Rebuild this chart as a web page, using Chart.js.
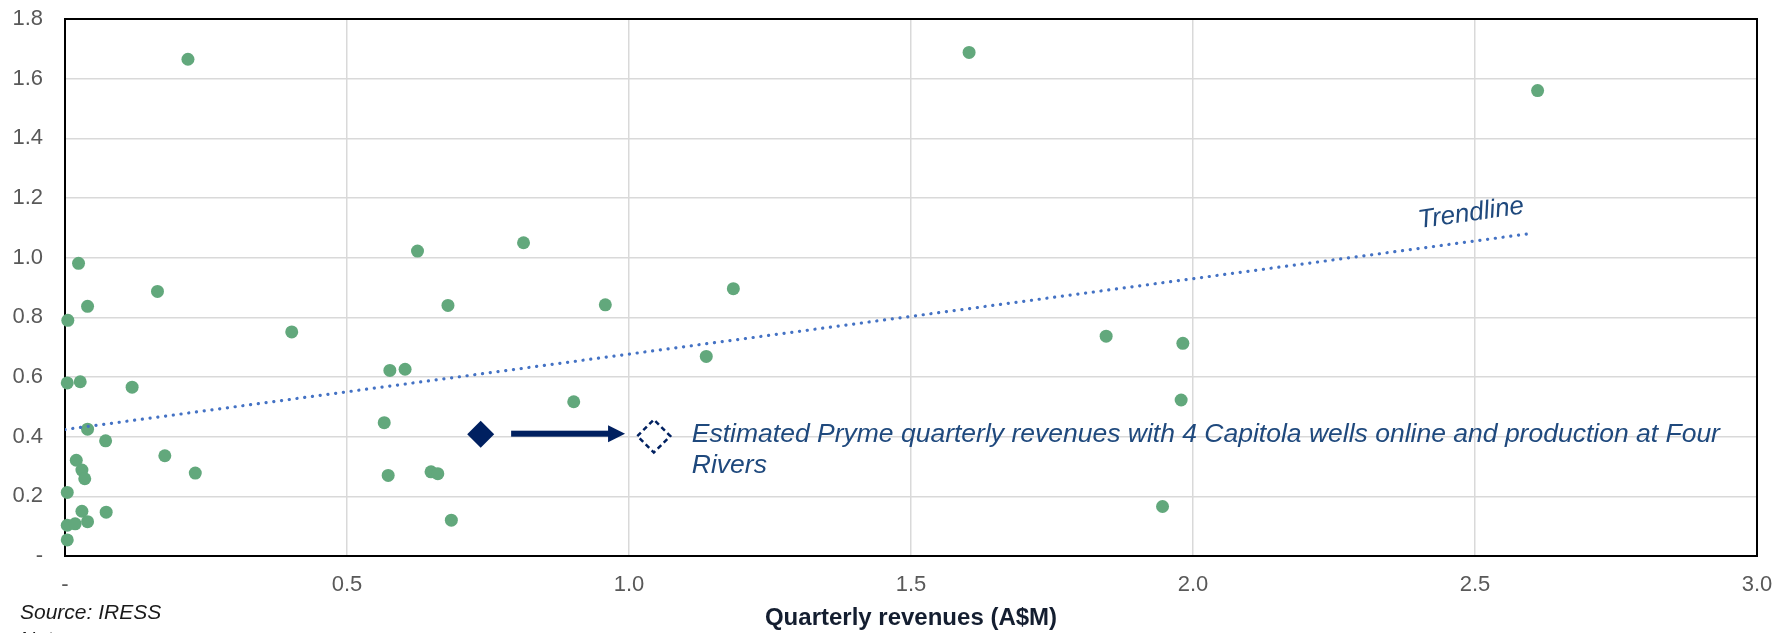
<!DOCTYPE html>
<html>
<head>
<meta charset="utf-8">
<script src="https://cdn.jsdelivr.net/npm/chart.js@4.4.1/dist/chart.umd.min.js"></script>
<style>
  html, body { margin: 0; padding: 0; background: #fff; }
  canvas { display: block; }
</style>
</head>
<body>
<canvas id="chart" width="1788" height="633"></canvas>
<script>
// peer group: quarterly revenues (A$M) on x, value on y
const peerRevenue = [
    0.218, 0.024, 0.164, 0.040, 0.005, 0.402, 0.004, 0.027, 0.119, 0.040, 0.072, 0.020,
    0.177, 0.030, 0.035, 0.231, 0.004, 0.030, 0.073, 0.004, 0.018, 0.040, 0.004,
    0.625, 0.813, 0.679, 0.958, 1.185, 0.576, 0.603, 1.137, 0.902, 0.566, 0.573, 0.649,
    0.661, 0.685,
    1.603, 1.846, 1.982, 1.979, 1.946, 2.611
]
const peerValue = [
    1.665, 0.981, 0.887, 0.837, 0.790, 0.751, 0.580, 0.584, 0.566, 0.425, 0.386, 0.321,
    0.336, 0.288, 0.259, 0.278, 0.213, 0.150, 0.147, 0.103, 0.108, 0.115, 0.054,
    1.022, 1.050, 0.840, 0.842, 0.896, 0.622, 0.626, 0.669, 0.517, 0.447, 0.270, 0.282,
    0.276, 0.120,
    1.688, 0.737, 0.713, 0.523, 0.166, 1.560
]

// Pryme now and estimated (4 Capitola wells + Four Rivers)
const prymeNow = {x: 0.737, y: 0.408}
const prymeEstimate = {x: 1.044, y: 0.402}
const arrowFrom = 0.791
const arrowTo = 0.993
const arrowY = 0.410

const trendX = [0, 2.603]
const trendY = [0.424, 1.082]
const trendLabelAt = {x: 2.493, y: 1.148}

const xTickLabels = ['-', '0.5', '1.0', '1.5', '2.0', '2.5', '3.0']
const yTickLabels = ['-', '0.2', '0.4', '0.6', '0.8', '1.0', '1.2', '1.4', '1.6', '1.8']

const estimateText = [
    'Estimated Pryme quarterly revenues with 4 Capitola wells online and production at Four',
    'Rivers'
]

const NAVY = '#002060'
const TEXT_BLUE = '#1F497D'
const FONT = '"Liberation Sans", Arial, sans-serif'

const extras = {
    id: 'extras',
    beforeDatasetsDraw(chart) {
        const {ctx, chartArea: a} = chart
        ctx.save()
        ctx.strokeStyle = '#000'
        ctx.lineWidth = 2
        ctx.strokeRect(a.left, a.top, a.right - a.left, a.bottom - a.top)
        ctx.restore()
    },
    beforeDatasetDraw(chart, args) {
        if (args.index === 2) chart.ctx.setLineDash([5, 3.5])
    },
    afterDatasetDraw(chart, args) {
        if (args.index === 2) chart.ctx.setLineDash([])
    },
    afterDatasetsDraw(chart) {
        const {ctx, scales: {x, y}} = chart
        ctx.save()

        // arrow from current to estimate
        const x0 = x.getPixelForValue(arrowFrom)
        const x1 = x.getPixelForValue(arrowTo)
        const ay = y.getPixelForValue(arrowY)
        ctx.fillStyle = NAVY
        ctx.fillRect(x0, ay - 3, x1 - x0 - 16, 6)
        ctx.beginPath()
        ctx.moveTo(x1, ay)
        ctx.lineTo(x1 - 17, ay - 8.5)
        ctx.lineTo(x1 - 17, ay + 8.5)
        ctx.closePath()
        ctx.fill()

        // annotation text
        const tx = x.getPixelForValue(prymeEstimate.x) + 38
        const ty = y.getPixelForValue(prymeEstimate.y) + 6
        ctx.font = 'italic 26.5px ' + FONT
        ctx.fillStyle = TEXT_BLUE
        ctx.textBaseline = 'alphabetic'
        ctx.textAlign = 'left'
        estimateText.forEach((line, i) => ctx.fillText(line, tx, ty + i * 31))

        // trendline label
        ctx.font = 'italic 26px ' + FONT
        ctx.translate(x.getPixelForValue(trendLabelAt.x), y.getPixelForValue(trendLabelAt.y))
        ctx.rotate(-8 * Math.PI / 180)
        ctx.textAlign = 'center'
        ctx.textBaseline = 'middle'
        ctx.fillText('Trendline', 0, 0)
        ctx.restore()

        // source and notes
        ctx.save()
        ctx.font = 'italic 21px ' + FONT
        ctx.fillStyle = '#1a1a1a'
        ctx.textBaseline = 'alphabetic'
        ctx.fillText('Source: IRESS', 20, 619)
        ctx.fillText('Notes:', 20, 646)
        ctx.restore()
    }
}

new Chart(document.getElementById('chart'), {
    type: 'scatter',
    data: {
        datasets: [
            {
                type: 'line',
                label: 'Trendline',
                data: trendX.map((v, i) => ({x: v, y: trendY[i]})),
                borderColor: '#4472C4',
                borderWidth: 3.2,
                borderDash: [0.1, 7.7],
                borderCapStyle: 'round',
                pointRadius: 0,
                fill: false
            },
            {
                label: 'Pryme',
                data: [prymeNow],
                pointStyle: 'rectRot',
                pointRadius: 13.5,
                backgroundColor: NAVY,
                borderColor: NAVY,
                borderWidth: 0
            },
            {
                label: 'Pryme estimate',
                data: [prymeEstimate],
                pointStyle: 'rectRot',
                pointRadius: 16.5,
                backgroundColor: '#fff',
                borderColor: NAVY,
                borderWidth: 2.5
            },
            {
                label: 'Peers',
                data: peerRevenue.map((v, i) => ({x: v, y: peerValue[i]})),
                pointRadius: 6.5,
                backgroundColor: '#62A87C',
                borderWidth: 0,
                clip: false
            }
        ]
    },
    options: {
        responsive: false,
        animation: false,
        events: [],
        layout: {padding: {top: 18, right: 31, left: 0, bottom: 0}},
        plugins: {
            legend: {display: false},
            tooltip: {enabled: false}
        },
        scales: {
            x: {
                min: 0,
                max: 3,
                afterFit: scale => {
                    scale.height = 77
                    scale.paddingLeft = 0
                    scale.paddingRight = 0
                },
                ticks: {
                    stepSize: 0.5,
                    padding: 16,
                    color: '#595959',
                    font: {family: FONT, size: 22},
                    callback: (v, i) => xTickLabels[i]
                },
                grid: {color: '#D9D9D9', lineWidth: 1.5, drawTicks: false},
                border: {display: false},
                title: {
                    display: true,
                    text: 'Quarterly revenues (A$M)',
                    color: '#141E30',
                    font: {family: FONT, size: 24, weight: 'bold'},
                    padding: 0
                }
            },
            y: {
                min: 0,
                max: 1.8,
                afterFit: scale => {
                    scale.width = 65
                    scale.paddingTop = 0
                    scale.paddingBottom = 0
                },
                ticks: {
                    stepSize: 0.2,
                    padding: 22,
                    color: '#595959',
                    font: {family: FONT, size: 22},
                    callback: (v, i) => yTickLabels[i]
                },
                grid: {color: '#D9D9D9', lineWidth: 1.5, drawTicks: false},
                border: {display: false}
            }
        }
    },
    plugins: [extras]
})
</script>
</body>
</html>
